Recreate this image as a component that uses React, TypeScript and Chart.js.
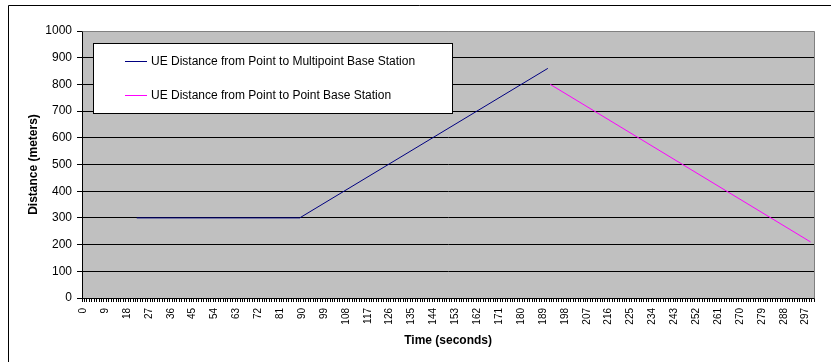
import React, { useEffect, useRef } from 'react';
import { Chart, registerables } from 'chart.js';

Chart.register(...registerables);

// Category labels: one per second, 0..300
const timeLabels: string[] = Array.from({ length: 301 }, (_, i) => String(i));

// Series 1: UE distance from point to multipoint base station
const multipointTimes: string[] = ['22', '89', '191'];
const multipointValues: number[] = [300, 300, 860];

// Series 2: UE distance from point to point base station
const pointTimes: string[] = ['192', '299'];
const pointValues: number[] = [800, 210];

const seriesNames: string[] = [
  'UE Distance from Point to Multipoint Base Station',
  'UE Distance from Point to Point Base Station',
];

const yMin = 0;
const yMax = 1000;
const yStep = 100;
const xLabelEvery = 9;

const FONT = 'Arial, "Liberation Sans", sans-serif';
const COLORS = ['#000080', '#FF00FF'];

const framePlugin = {
  id: 'excelFrame',
  beforeDraw(chart: any) {
    const { ctx, chartArea: a, width, height } = chart;
    ctx.save();
    ctx.fillStyle = '#ffffff';
    ctx.fillRect(0, 0, width, height);
    ctx.fillStyle = '#c0c0c0';
    ctx.fillRect(a.left, a.top, a.right - a.left, a.bottom - a.top);
    // outer frame
    ctx.strokeStyle = '#000000';
    ctx.lineWidth = 1;
    ctx.beginPath();
    ctx.moveTo(8.5, height);
    ctx.lineTo(8.5, 5.5);
    ctx.lineTo(width, 5.5);
    ctx.stroke();
    ctx.restore();
  },
  beforeDatasetsDraw(chart: any) {
    const { ctx, chartArea: a } = chart;
    ctx.save();
    ctx.strokeStyle = '#808080';
    ctx.lineWidth = 1;
    ctx.beginPath();
    ctx.moveTo(Math.round(a.left) + 0.5, Math.round(a.top) + 0.5);
    ctx.lineTo(Math.round(a.right) + 0.5, Math.round(a.top) + 0.5);
    ctx.lineTo(Math.round(a.right) + 0.5, Math.round(a.bottom) + 0.5);
    ctx.stroke();
    ctx.restore();
  },
  afterDraw(chart: any) {
    const { ctx } = chart;
    const bx = 93.5, by = 43.5, bw = 359, bh = 70;
    ctx.save();
    ctx.fillStyle = '#ffffff';
    ctx.fillRect(bx, by, bw, bh);
    ctx.strokeStyle = '#000000';
    ctx.lineWidth = 1;
    ctx.strokeRect(bx, by, bw, bh);
    const rows = [61, 95];
    chart.data.datasets.forEach((ds: any, i: number) => {
      const y = rows[i] + 0.5;
      ctx.strokeStyle = ds.borderColor;
      ctx.lineWidth = 1;
      ctx.beginPath();
      ctx.moveTo(125, y);
      ctx.lineTo(147, y);
      ctx.stroke();
      ctx.fillStyle = '#000000';
      ctx.font = `12px ${FONT}`;
      ctx.textBaseline = 'middle';
      ctx.textAlign = 'left';
      ctx.fillText(ds.label, 151, rows[i] + 1);
    });
    ctx.restore();
  },
};

export default function App() {
  const canvasRef = useRef<HTMLCanvasElement | null>(null);

  useEffect(() => {
    const canvas = canvasRef.current;
    if (!canvas) return;
    const chart = new Chart(canvas, {
      type: 'line',
      data: {
        labels: timeLabels,
        datasets: [
          {
            label: seriesNames[0],
            data: multipointTimes.map((t, i) => ({ x: t, y: multipointValues[i] })) as any,
            borderColor: COLORS[0],
            backgroundColor: COLORS[0],
            borderWidth: 1,
            pointRadius: 0,
            tension: 0,
            fill: false,
          },
          {
            label: seriesNames[1],
            data: pointTimes.map((t, i) => ({ x: t, y: pointValues[i] })) as any,
            borderColor: COLORS[1],
            backgroundColor: COLORS[1],
            borderWidth: 1,
            pointRadius: 0,
            tension: 0,
            fill: false,
          },
        ],
      },
      options: {
        animation: false,
        responsive: false,
        maintainAspectRatio: false,
        layout: { padding: { left: 0, top: 31, right: 14, bottom: 0 } },
        plugins: {
          legend: { display: false },
          tooltip: { enabled: false },
        },
        scales: {
          x: {
            type: 'category',
            offset: true,
            grid: {
              display: true,
              drawOnChartArea: false,
              drawTicks: true,
              tickLength: 4,
              color: '#000000',
              offset: true,
            },
            border: { display: true, color: '#000000', width: 1 },
            ticks: {
              autoSkip: false,
              minRotation: 90,
              maxRotation: 90,
              padding: 6,
              color: '#000000',
              font: { family: FONT, size: 10 },
              callback: function (this: any, val: any, idx: number) {
                return idx % xLabelEvery === 0 ? this.getLabelForValue(val) : '';
              },
            },
            title: {
              display: true,
              text: 'Time (seconds)',
              color: '#000000',
              font: { family: FONT, size: 12, weight: 'bold' },
              padding: { top: 0, bottom: 14 },
            },
            afterFit: (scale: any) => {
              scale.height = 64;
            },
          },
          y: {
            min: yMin,
            max: yMax,
            ticks: {
              stepSize: yStep,
              padding: 5,
              color: '#000000',
              font: { family: FONT, size: 12 },
              callback: (v: any) => String(v),
            },
            grid: {
              color: (c: any) => (c.tick && c.tick.value === yMax ? '#808080' : '#000000'),
              tickColor: '#000000',
              tickLength: 5,
              lineWidth: 1,
            },
            border: { display: true, color: '#000000', width: 1 },
            title: {
              display: true,
              text: 'Distance (meters)',
              color: '#000000',
              font: { family: FONT, size: 12, weight: 'bold' },
              padding: { top: 26, bottom: 0 },
            },
            afterFit: (scale: any) => {
              scale.width = 82;
            },
          },
        },
      },
      plugins: [framePlugin],
    });
    return () => chart.destroy();
  }, []);

  return (
    <div style={{ position: 'absolute', left: 0, top: 0, width: 831, height: 362 }}>
      <canvas ref={canvasRef} width={831} height={362} style={{ display: 'block' }} />
    </div>
  );
}
